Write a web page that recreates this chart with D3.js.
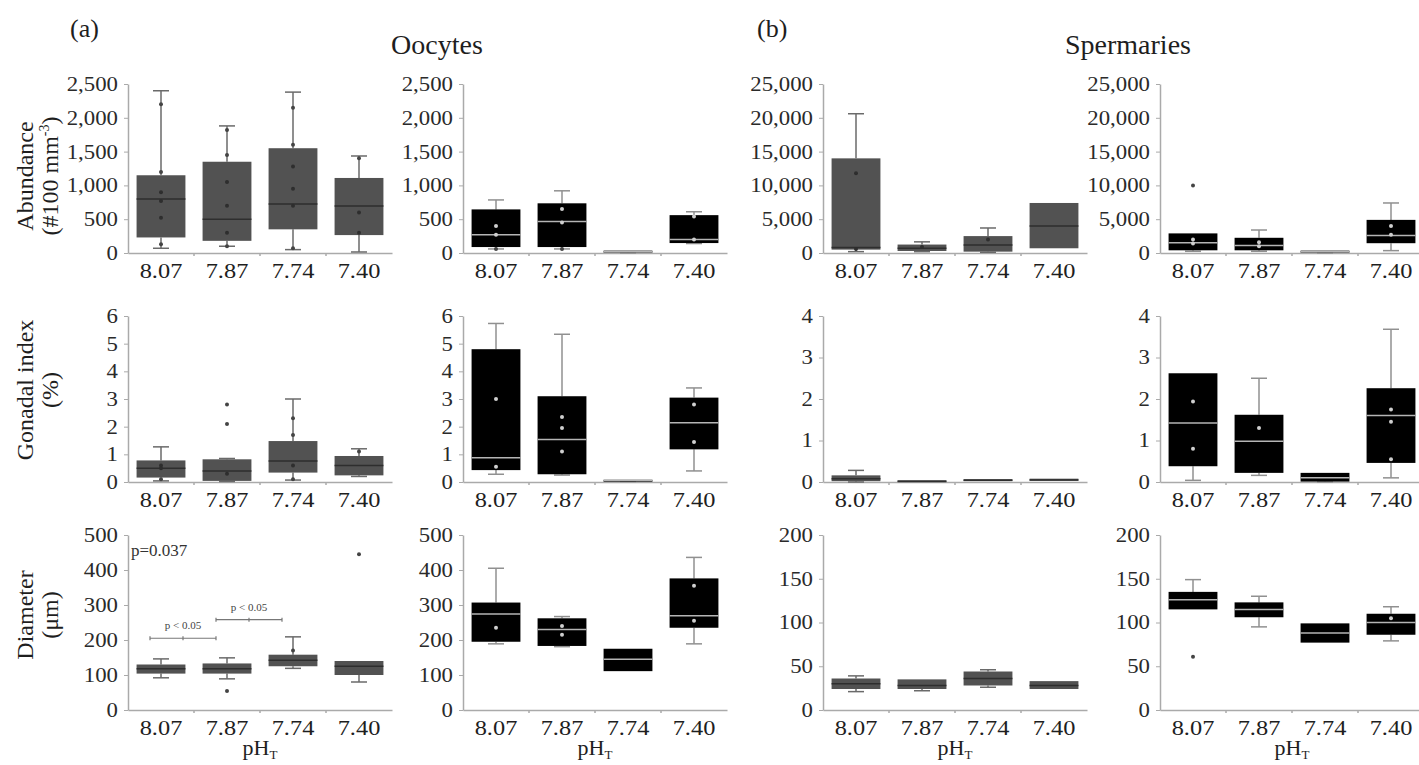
<!DOCTYPE html>
<html>
<head>
<meta charset="utf-8">
<script src="https://cdn.jsdelivr.net/npm/d3@7"></script>
<style>
  body { margin: 0; background: #fff; }
  svg text { font-family: "Liberation Serif", "Times New Roman", serif !important; fill: #1e1e1e; }
</style>
</head>
<body>
<div id="chart"></div>
<script>
// categories (pH_T treatments)
var phLevels = ["8.07", "7.87", "7.74", "7.40"];

// box stats per category: [lower whisker, q1, median, q3, upper whisker]
// row 1 - abundance
var oocAbundA = [[70, 230, 800, 1150, 2400], [100, 180, 500, 1350, 1880], [50, 350, 725, 1550, 2380], [15, 265, 695, 1110, 1435]];
var oocAbundAPts = [[2200, 1200, 900, 770, 520, 130], [1820, 1450, 1050, 700, 300, 100], [2150, 1600, 1280, 950, 700, 70], [1400, 600, 300]];
var oocAbundB = [[60, 88, 270, 645, 785], [60, 88, 466, 735, 920], [0, 10, 20, 35, 35], [140, 147, 200, 560, 610]];
var oocAbundBPts = [[400, 270, 60], [650, 450, 60], [], [540, 200]];
var spmAbundA = [[200, 500, 800, 14000, 20600], [200, 300, 700, 1250, 1650], [100, 200, 1200, 2500, 3700], [700, 700, 4000, 7400, 7400]];
var spmAbundAPts = [[11800, 600], [900], [2000], []];
var spmAbundB = [[250, 400, 1500, 2900, 2900], [250, 400, 1100, 2250, 3400], [0, 50, 200, 350, 350], [350, 1450, 2600, 4900, 7400]];
var spmAbundBPts = [[10000, 2000, 1400], [1600, 1000], [], [4000, 2700]];

// row 2 - gonadal index
var oocGsiA = [[0.04, 0.16, 0.5, 0.78, 1.27], [0.02, 0.04, 0.4, 0.82, 0.85], [0.07, 0.34, 0.76, 1.48, 3.0], [0.2, 0.24, 0.6, 0.94, 1.2]];
var oocGsiAPts = [[0.6, 0.5, 0.1], [2.8, 2.1, 0.3], [2.3, 1.7, 0.6, 0.1], [1.1]];
var oocGsiB = [[0.28, 0.43, 0.88, 4.8, 5.73], [0.25, 0.28, 1.54, 3.1, 5.34], [0.02, 0.03, 0.05, 0.08, 0.08], [0.4, 1.18, 2.14, 3.05, 3.4]];
var oocGsiBPts = [[3.0, 0.55], [2.35, 1.95, 1.1], [], [2.8, 1.45]];
var spmGsiA = [[0, 0.02, 0.08, 0.16, 0.28], [0.01, 0.01, 0.02, 0.04, 0.04], [0.02, 0.02, 0.04, 0.07, 0.07], [0.03, 0.03, 0.05, 0.08, 0.08]];
var spmGsiAPts = [[], [], [], []];
var spmGsiB = [[0.04, 0.38, 1.42, 2.62, 2.62], [0.16, 0.22, 0.98, 1.62, 2.5], [0, 0.01, 0.1, 0.22, 0.22], [0.1, 0.46, 1.6, 2.26, 3.68]];
var spmGsiBPts = [[1.94, 0.8], [1.3], [], [1.75, 1.45, 0.55]];

// row 3 - diameter
var oocDiamA = [[92, 104, 118, 130, 146], [89, 104, 118, 133, 149], [119, 125, 142, 158, 209], [80, 100, 125, 140, 140]];
var oocDiamAPts = [[], [54], [170], [445]];
var oocDiamB = [[189, 195, 274, 307, 405], [181, 183, 230, 262, 267], [111, 111, 145, 175, 175], [189, 235, 269, 376, 436]];
var oocDiamBPts = [[235], [240, 215], [], [355, 255]];
var spmDiamA = [[21, 24, 30, 36, 39], [22, 24, 28, 35, 35], [26, 28, 36, 44, 46], [24, 24, 28, 33, 33]];
var spmDiamAPts = [[], [], [], []];
var spmDiamB = [[115, 115, 126, 135, 149], [95, 106, 115, 123, 130], [77, 77, 88, 99, 99], [79, 86, 100, 110, 118]];
var spmDiamBPts = [[61], [], [], [105]];

// axis extents per row / column
var yMaxes = [[2500, 2500, 25000, 25000], [6, 6, 4, 4], [500, 500, 200, 200]];
var ySteps = [[500, 500, 5000, 5000], [1, 1, 1, 1], [100, 100, 50, 50]];

// pairwise test annotations (diameter, oocytes column a)
var pairTests = [
  { from: "8.07", to: "7.87", value: 205, label: "p < 0.05" },
  { from: "7.87", to: "7.74", value: 258, label: "p < 0.05" }
];
var kwLabel = "p=0.037";

var rowTitles = [["Abundance", "(#100 mm", "-3", ")"], ["Gonadal index", "(%)"], ["Diameter", "(\u03bcm)"]];

var svgWidth = 1419;
var svgHeight = 765;

var svg = d3.select("#chart")
  .append("svg")
  .attr("width", svgWidth)
  .attr("height", svgHeight);

// layout
var colX = [128, 463, 823, 1160];
var plotW = 264;
var rowY = [[253, 84], [482, 316], [710, 535]];
var colFill = ["#525252", "#000", "#525252", "#000"];
var serif = '"Liberation Serif", "Times New Roman", serif';

var rows = [
  [[oocAbundA, oocAbundAPts], [oocAbundB, oocAbundBPts], [spmAbundA, spmAbundAPts], [spmAbundB, spmAbundBPts]],
  [[oocGsiA, oocGsiAPts], [oocGsiB, oocGsiBPts], [spmGsiA, spmGsiAPts], [spmGsiB, spmGsiBPts]],
  [[oocDiamA, oocDiamAPts], [oocDiamB, oocDiamBPts], [spmDiamA, spmDiamAPts], [spmDiamB, spmDiamBPts]]
];

// widen text a little, the source figure uses a broad serif face
function widen(sel, k) {
  sel.each(function() {
    var len = this.getComputedTextLength();
    d3.select(this).attr("textLength", len * k).attr("lengthAdjust", "spacingAndGlyphs");
  });
}

function drawPanel(r, c) {
  var boxes = rows[r][c][0];
  var pts = rows[r][c][1];
  var dark = colFill[c] === "#000";

  var y = d3.scaleLinear().domain([0, yMaxes[r][c]]).range(rowY[r]);
  var x = d3.scaleBand().domain(phLevels)
    .range([colX[c], colX[c] + plotW])
    .paddingInner(0.26).paddingOuter(0.13);

  var g = svg.append("g");

  // y axis
  var yAxis = g.append("g")
    .attr("transform", `translate(${colX[c]},0)`)
    .call(d3.axisLeft(y)
      .tickValues(d3.range(0, yMaxes[r][c] + 1e-9, ySteps[r][c]))
      .tickSize(4).tickSizeOuter(0).tickPadding(6)
      .tickFormat(d3.format(",")));
  yAxis.attr("font-family", serif);
  yAxis.select(".domain").attr("stroke", "#aaa").attr("stroke-width", 1.5);
  yAxis.selectAll(".tick line").attr("stroke", "#aaa");
  yAxis.selectAll("text").attr("font-size", 20).style("font-family", serif).style("fill", "#2a2a2a");
  widen(yAxis.selectAll("text"), 1.14);

  // x axis
  var xAxis = g.append("g")
    .attr("transform", `translate(0,${rowY[r][0]})`)
    .call(d3.axisBottom(x).tickSize(0).tickSizeOuter(0).tickPadding(10));
  xAxis.attr("font-family", serif);
  xAxis.select(".domain").attr("stroke", "#aaa").attr("stroke-width", 1.5);
  xAxis.selectAll("text").attr("font-size", 21).style("font-family", serif).style("fill", "#1e1e1e");
  widen(xAxis.selectAll("text"), 1.16);

  // small ticks at category boundaries
  var step = x.step();
  g.selectAll(".bnd")
    .data(phLevels.slice(1))
    .enter()
    .append("line")
    .attr("x1", d => x(d) - step * 0.13)
    .attr("x2", d => x(d) - step * 0.13)
    .attr("y1", rowY[r][0])
    .attr("y2", rowY[r][0] + 3)
    .attr("stroke", "#aaa")
    .attr("stroke-width", 1.5);

  var bw = x.bandwidth();
  var capW = 16;

  phLevels.forEach(function(ph, i) {
    var s = boxes[i];
    var cx = x(ph) + bw / 2;
    var wCol = dark ? "#909090" : "#6a6a6a";

    // whiskers
    if (s[4] > s[3]) {
      g.append("line").attr("x1", cx).attr("x2", cx).attr("y1", y(s[3])).attr("y2", y(s[4])).attr("stroke", wCol).attr("stroke-width", 1.5);
      g.append("line").attr("x1", cx - capW / 2).attr("x2", cx + capW / 2).attr("y1", y(s[4])).attr("y2", y(s[4])).attr("stroke", wCol).attr("stroke-width", 1.5);
    }
    if (s[0] < s[1]) {
      g.append("line").attr("x1", cx).attr("x2", cx).attr("y1", y(s[1])).attr("y2", y(s[0])).attr("stroke", wCol).attr("stroke-width", 1.5);
      g.append("line").attr("x1", cx - capW / 2).attr("x2", cx + capW / 2).attr("y1", y(s[0])).attr("y2", y(s[0])).attr("stroke", wCol).attr("stroke-width", 1.5);
    }

    // box
    g.append("rect")
      .attr("x", x(ph))
      .attr("y", y(s[3]))
      .attr("width", bw)
      .attr("height", Math.max(2, y(s[1]) - y(s[3])))
      .attr("fill", colFill[c]);

    // median
    g.append("line")
      .attr("x1", x(ph)).attr("x2", x(ph) + bw)
      .attr("y1", y(s[2])).attr("y2", y(s[2]))
      .attr("stroke", dark ? "#b5b5b5" : "#2e2e2e")
      .attr("stroke-width", 1.5);

    // individual points
    g.selectAll(null)
      .data(pts[i])
      .enter()
      .append("circle")
      .attr("cx", cx)
      .attr("cy", d => y(d))
      .attr("r", 2)
      .attr("fill", d => (d >= s[1] && d <= s[3]) ? (dark ? "#cfcfcf" : "#2e2e2e") : "#444");
  });

  // annotations on diameter / oocytes panel
  if (r === 2 && c === 0) {
    g.append("text")
      .attr("x", colX[c] + 3)
      .attr("y", y(yMaxes[r][c]) + 21)
      .attr("font-size", 17)
      .style("fill", "#333")
      .text(kwLabel);

    pairTests.forEach(function(t) {
      var x1 = x(t.from) + bw / 2 - 11;
      var x2 = x(t.to) + bw / 2 - 11;
      var yy = y(t.value);
      g.append("line").attr("x1", x1).attr("x2", x2).attr("y1", yy).attr("y2", yy).attr("stroke", "#777").attr("stroke-width", 1.2);
      [x1, (x1 + x2) / 2, x2].forEach(function(xx) {
        g.append("line").attr("x1", xx).attr("x2", xx).attr("y1", yy - 2).attr("y2", yy + 2).attr("stroke", "#777").attr("stroke-width", 1.2);
      });
      g.append("text")
        .attr("x", (x1 + x2) / 2)
        .attr("y", yy - 9)
        .attr("text-anchor", "middle")
        .attr("font-size", 11)
        .style("fill", "#444")
        .text(t.label);
    });
  }

  // pH_T label under bottom row
  if (r === 2) {
    var lab = g.append("text")
      .attr("x", colX[c] + plotW / 2)
      .attr("y", 755)
      .attr("text-anchor", "middle")
      .attr("font-size", 22);
    lab.append("tspan").text("pH");
    lab.append("tspan").attr("font-size", 13).attr("dy", 4).text("T");
  }
}

for (var r = 0; r < 3; r++) {
  for (var c = 0; c < 4; c++) {
    drawPanel(r, c);
  }
}

// row titles (y axis labels)
var rowCenters = [176, 390, 615];
rowTitles.forEach(function(t, r) {
  svg.append("text")
    .attr("transform", `translate(33,${rowCenters[r]}) rotate(-90)`)
    .attr("text-anchor", "middle")
    .attr("font-size", 24)
    .text(t[0]);
  var second = svg.append("text")
    .attr("transform", `translate(58,${rowCenters[r]}) rotate(-90)`)
    .attr("text-anchor", "middle")
    .attr("font-size", 24);
  second.append("tspan").text(t[1]);
  if (t.length > 2) {
    second.append("tspan").attr("font-size", 14).attr("dy", -9).text(t[2]);
    second.append("tspan").attr("dy", 9).text(t[3]);
  }
});

// panel letters and column group titles
svg.append("text").attr("x", 70).attr("y", 37).attr("font-size", 26).text("(a)");
svg.append("text").attr("x", 757).attr("y", 37).attr("font-size", 26).text("(b)");
svg.append("text").attr("x", 437).attr("y", 54).attr("text-anchor", "middle").attr("font-size", 28).text("Oocytes");
svg.append("text").attr("x", 1128).attr("y", 54).attr("text-anchor", "middle").attr("font-size", 28).text("Spermaries");
</script>
</body>
</html>
